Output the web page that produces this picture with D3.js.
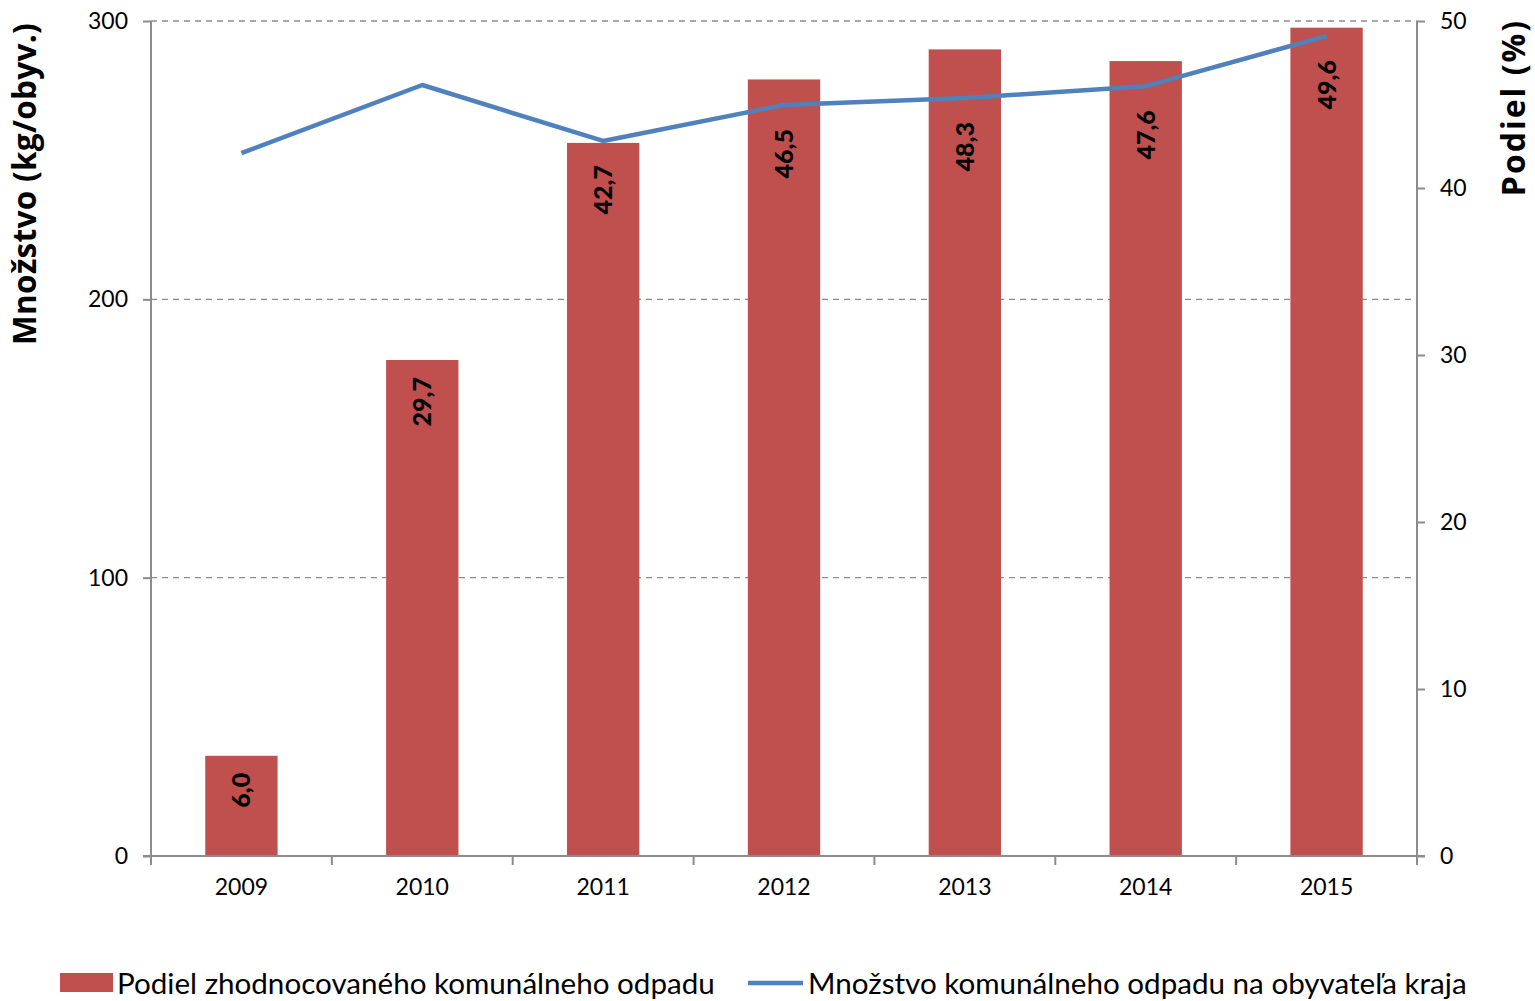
<!DOCTYPE html>
<html><head><meta charset="utf-8">
<script src="https://cdn.jsdelivr.net/npm/d3@7"></script>
<style>body{margin:0;background:#fff}svg{display:block}text{font-family:Lato,"Open Sans",sans-serif}</style>
</head><body><svg id="c" width="1535" height="1001"></svg>
<script>
const years = ["2009","2010","2011","2012","2013","2014","2015"];
const podiel = [6.0, 29.7, 42.7, 46.5, 48.3, 47.6, 49.6];
const mnozstvo = [252.5, 277.0, 256.9, 269.8, 272.3, 276.6, 294.6];
const podielLabels = ["6,0","29,7","42,7","46,5","48,3","47,6","49,6"];
const leftTicks = [0,100,200,300];
const rightTicks = [0,10,20,30,40,50];
const seriesNames = ["Podiel zhodnocovaného komunálneho odpadu","Množstvo komunálneho odpadu na obyvateľa kraja"];

const svg = d3.select("#c");
const L = 151, R = 1417, T = 21, B = 856;
const x = d3.scaleBand().domain(years).range([L, R]).paddingInner(0).paddingOuter(0);
const yL = d3.scaleLinear().domain([0,300]).range([B, T]);
const yR = d3.scaleLinear().domain([0,50]).range([B, T]);
const grey = "#8c8c8c";

// gridlines
svg.append("g").selectAll("line").data(leftTicks.filter(d=>d>0)).join("line")
  .attr("x1", L).attr("x2", R).attr("y1", d=>yL(d)).attr("y2", d=>yL(d))
  .attr("stroke", grey).attr("stroke-width",1.3).attr("stroke-dasharray","6,5");

// bars
const bw = x.bandwidth()*0.4;
svg.append("g").selectAll("rect").data(podiel).join("rect")
  .attr("x", (d,i)=>x(years[i]) + x.bandwidth()/2 - bw/2)
  .attr("width", bw)
  .attr("y", d=>yR(d)).attr("height", d=>B - yR(d))
  .attr("fill","#C0504D");

// line
const line = d3.line().x((d,i)=>x(years[i])+x.bandwidth()/2).y(d=>yL(d));
svg.append("path").datum(mnozstvo).attr("d", line)
  .attr("fill","none").attr("stroke","#4F81BD").attr("stroke-width",4.5).attr("stroke-linejoin","round");

// labels (inside end, pushed below the line when it crosses)
svg.append("g").selectAll("text").data(podiel).join("text")
  .attr("transform", (d,i)=>{
    const cx = x(years[i]) + x.bandwidth()/2 + 9;
    const top = Math.max(yR(d)+17, yL(mnozstvo[i])+24);
    return `translate(${cx},${top}) rotate(-90)`;
  })
  .attr("text-anchor","end").attr("font-weight",900).attr("font-size",25).attr("fill","#000")
  .text((d,i)=>podielLabels[i]);

// axes
const axL = d3.axisLeft(yL).tickValues(leftTicks).tickSize(8).tickPadding(15);
const gL = svg.append("g").attr("transform",`translate(${L},0)`).call(axL);
const axR = d3.axisRight(yR).tickValues(rightTicks).tickSize(8).tickPadding(15);
const gR = svg.append("g").attr("transform",`translate(${R},0)`).call(axR);
const axB = d3.axisBottom(x).tickSize(0).tickPadding(23);
const gB = svg.append("g").attr("transform",`translate(0,${B})`).call(axB);
[gL,gR,gB].forEach(g=>{
  g.select(".domain").remove();
  g.selectAll("line").attr("stroke",grey).attr("stroke-width",2);
  g.selectAll("text").attr("font-size",23).attr("fill","#000").style("font-family","Lato,sans-serif");
});
// axis lines
svg.append("line").attr("x1",L).attr("x2",L).attr("y1",T).attr("y2",B+9).attr("stroke",grey).attr("stroke-width",2);
svg.append("line").attr("x1",R).attr("x2",R).attr("y1",T).attr("y2",B+9).attr("stroke",grey).attr("stroke-width",2);
svg.append("line").attr("x1",L-8).attr("x2",R+8).attr("y1",B).attr("y2",B).attr("stroke",grey).attr("stroke-width",2);
// category tick marks at band boundaries
svg.append("g").selectAll("line").data(years.slice(1)).join("line")
  .attr("x1",d=>x(d)).attr("x2",d=>x(d)).attr("y1",B).attr("y2",B+9).attr("stroke",grey).attr("stroke-width",2);

// axis titles
svg.append("text").attr("transform",`translate(36,${(23+345)/2}) rotate(-90)`)
  .attr("text-anchor","middle").attr("font-weight",700).attr("font-size",31.5)
  .style("font-family","'Open Sans',sans-serif").style("letter-spacing","0.3px").text("Množstvo (kg/obyv.)");
svg.append("text").attr("transform",`translate(1525,${(18+197)/2}) rotate(-90)`)
  .attr("text-anchor","middle").attr("font-weight",700).attr("font-size",32)
  .style("font-family","'Open Sans',sans-serif").style("letter-spacing","2px").text("Podiel (%)");

// legend
const lg = svg.append("g");
lg.append("rect").attr("x",60).attr("y",973).attr("width",53).attr("height",19).attr("fill","#C0504D");
lg.append("text").attr("x",117).attr("y",994).attr("font-size",29.6).text(seriesNames[0]);
lg.append("line").attr("x1",748).attr("x2",803).attr("y1",983).attr("y2",983).attr("stroke","#4F81BD").attr("stroke-width",4.5);
lg.append("text").attr("x",808).attr("y",994).attr("font-size",29.6).text(seriesNames[1]);
</script></body></html>
